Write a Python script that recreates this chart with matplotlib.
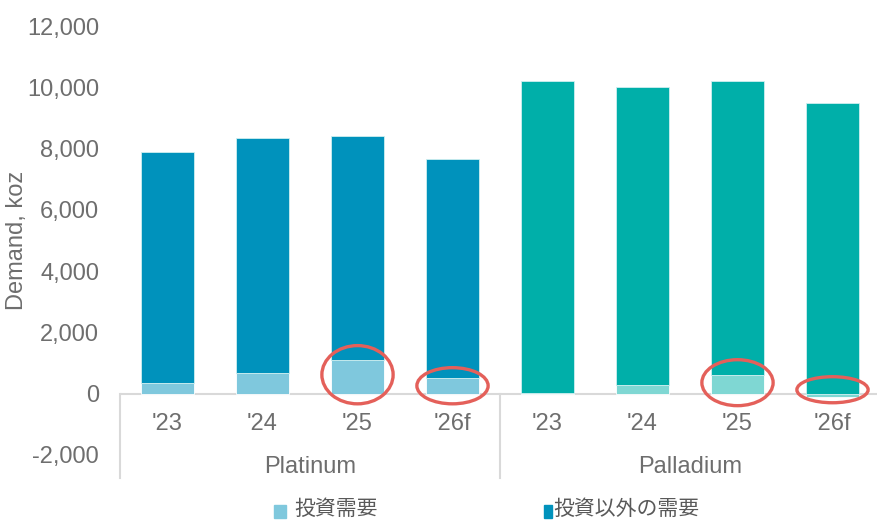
import numpy as np
import matplotlib
matplotlib.use('Agg')
import matplotlib.pyplot as plt
from matplotlib.patches import Ellipse, Rectangle

plt.rcParams['font.family'] = ['Liberation Sans', 'Noto Sans CJK JP', 'DejaVu Sans']

# demand by metal and year, koz
years = ["'23", "'24", "'25", "'26f"]
metals = ['Platinum', 'Palladium']
pt_invest = [350, 690, 1110, 520]
pt_other = [7550, 7640, 7300, 7130]
pd_invest = [30, 290, 610, -120]
pd_other = [10190, 9710, 9610, 9500]
legend_labels = ['投資需要', '投資以外の需要']

PT_DARK, PT_LIGHT = '#0092BC', '#7FC8DD'
PD_DARK, PD_LIGHT = '#00AFA9', '#7FD7D3'
TXT = '#6E6E6E'
GRID = '#D9D9D9'
RING = '#E4605A'

fig = plt.figure(figsize=(8.78, 5.21), dpi=100)
ax = fig.add_axes([120 / 878, 1 - 455 / 521, 760 / 878, 429 / 521])

x = np.arange(8)
invest = np.array(pt_invest + pd_invest)
other = np.array(pt_other + pd_other)
dark = [PT_DARK] * 4 + [PD_DARK] * 4
light = [PT_LIGHT] * 4 + [PD_LIGHT] * 4
w = 0.55

ax.bar(x, invest, width=w, color=light, edgecolor='white', linewidth=0.6, zorder=2)
ax.bar(x, other, width=w, bottom=np.maximum(invest, 0), color=dark,
       edgecolor='#CFEFF0', linewidth=0.6, zorder=2)

ax.set_xlim(-0.5, 7.5)
ax.set_ylim(-2000, 12000)
ax.set_yticks(np.arange(-2000, 12001, 2000))
ax.yaxis.set_major_formatter(matplotlib.ticker.FuncFormatter(lambda v, p: f'{int(v):,}'))
ax.tick_params(axis='y', length=0, pad=15, labelsize=17, labelcolor=TXT)
ax.set_xticks([])
for s in ax.spines.values():
    s.set_visible(False)
fig.text(17 / 878, 1 - 240 / 521, 'Demand, koz', rotation=90, ha='center',
         va='center', fontsize=17, color=TXT)

# zero line and category separators
ax.axhline(0, color=GRID, lw=1.5, zorder=1)
for sx in (-0.5, 3.5, 7.5):
    ax.plot([sx, sx], [0, -2750], color=GRID, lw=1.5, clip_on=False)

tr = ax.get_xaxis_transform()
for i, lab in enumerate(years * 2):
    ax.text(i, 0.072, lab, transform=tr, ha='center', va='center',
            fontsize=17, color=TXT)
for g, name in enumerate(metals):
    ax.text(1.5 + 4 * g, -0.028, name, transform=tr, ha='center', va='center',
            fontsize=17, color=TXT)

# highlight rings around investment demand
rings = [(2, 620, 1900), (3, 260, 1180), (6, 360, 1500), (7, 130, 850)]
for xi, yc, h in rings:
    ax.add_patch(Ellipse((xi, yc), 0.75, h, fill=False, edgecolor=RING,
                         lw=2.4, zorder=3, clip_on=False))

# legend
fig.patches.append(Rectangle((274 / 878, 1 - 518 / 521), 12 / 878, 13 / 521,
                             transform=fig.transFigure, color=PT_LIGHT))
fig.text(294 / 878, 1 - 509 / 521, legend_labels[0], fontsize=15, color='#595959',
         va='center')
fig.patches.append(Rectangle((544 / 878, 1 - 518 / 521), 8 / 878, 13 / 521,
                             transform=fig.transFigure, color=PT_DARK))
fig.text(553 / 878, 1 - 509 / 521, legend_labels[1], fontsize=15, color='#595959',
         va='center')

fig.savefig('out.png', dpi=100)
